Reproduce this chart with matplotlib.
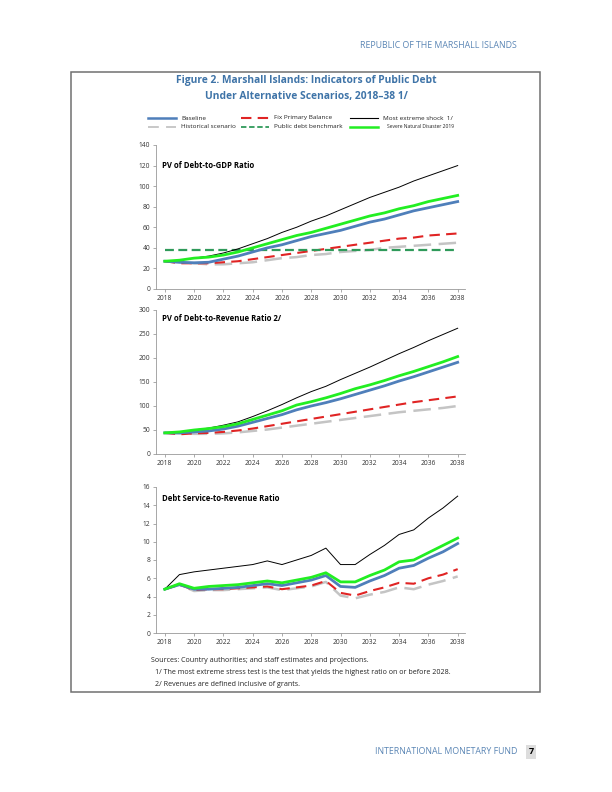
import numpy as np
import matplotlib
matplotlib.use("Agg")
import matplotlib.pyplot as plt
from matplotlib.lines import Line2D
from matplotlib.patches import Rectangle

plt.rcParams['font.family'] = ['Open Sans', 'DejaVu Sans']

years = list(range(2018, 2039))
xticks = list(range(2018, 2039, 2))

# PV of debt-to-GDP ratio
gdp_baseline = [27, 26, 25.5, 26, 29, 32, 36, 40, 43, 47, 51, 54, 57, 61, 65, 68, 72, 76, 79, 82, 85]
gdp_historical = [27, 26, 25, 24, 24, 25, 26, 28, 30, 31, 33, 34, 36, 37, 38, 40, 41, 42, 43, 44, 45]
gdp_fixpb = [27, 25, 25, 25, 26, 27, 29, 31, 33, 35, 37, 39, 41, 43, 45, 47, 49, 50, 52, 53, 54]
gdp_benchmark = [38] * 21
gdp_extreme = [27, 28, 30, 32, 35, 39, 44, 49, 55, 60, 66, 71, 77, 83, 89, 94, 99, 105, 110, 115, 120]
gdp_disaster = [27, 28, 30, 31, 33, 36, 40, 44, 48, 52, 55, 59, 63, 67, 71, 74, 78, 81, 85, 88, 91]

# PV of debt-to-revenue ratio
rev_baseline = [44, 44, 46, 48, 52, 58, 66, 74, 82, 92, 100, 107, 115, 124, 133, 142, 152, 161, 171, 181, 191]
rev_historical = [44, 43, 42, 42, 43, 45, 48, 51, 55, 59, 63, 67, 71, 75, 79, 83, 87, 90, 93, 96, 100]
rev_fixpb = [44, 41, 43, 44, 46, 49, 53, 58, 63, 68, 73, 78, 83, 88, 93, 98, 103, 108, 112, 116, 120]
rev_extreme = [44, 46, 50, 54, 60, 67, 78, 90, 103, 117, 130, 141, 155, 168, 181, 195, 209, 222, 236, 249, 262]
rev_disaster = [44, 46, 50, 53, 57, 63, 72, 81, 90, 102, 109, 117, 126, 136, 144, 153, 163, 172, 182, 192, 203]

# Debt service-to-revenue ratio
ds_baseline = [4.8, 5.3, 4.8, 4.8, 4.9, 5.0, 5.2, 5.4, 5.2, 5.5, 5.8, 6.3, 5.1, 5.0, 5.7, 6.3, 7.1, 7.4, 8.2, 8.9, 9.8]
ds_historical = [4.8, 5.3, 4.6, 4.7, 4.7, 4.8, 4.9, 5.0, 4.7, 4.9, 5.1, 5.6, 4.1, 3.8, 4.2, 4.5, 5.0, 4.8, 5.3, 5.7, 6.2]
ds_fixpb = [4.8, 5.3, 4.7, 4.8, 4.8, 4.9, 5.0, 5.1, 4.8, 5.0, 5.2, 5.7, 4.4, 4.1, 4.6, 5.0, 5.5, 5.4, 6.0, 6.4, 7.0]
ds_extreme = [4.8, 6.4, 6.7, 6.9, 7.1, 7.3, 7.5, 7.9, 7.5, 8.0, 8.5, 9.3, 7.5, 7.5, 8.6, 9.6, 10.8, 11.3, 12.6, 13.7, 15.0]
ds_disaster = [4.8, 5.4, 4.9, 5.1, 5.2, 5.3, 5.5, 5.7, 5.5, 5.8, 6.1, 6.6, 5.6, 5.6, 6.3, 6.9, 7.8, 8.0, 8.8, 9.6, 10.4]

BLUE = '#4f7fba'
GREEN = '#22ee22'
RED = '#e02424'
GRAY = '#c4c4c4'
BENCH = '#2f9a5a'
TITLE_BLUE = '#3f74a8'

W, H = 612, 792
fig = plt.figure(figsize=(W / 100, H / 100), dpi=100)


def px_axes(left, top, right, bottom):
    return fig.add_axes([left / W, 1 - bottom / H, (right - left) / W, (bottom - top) / H])


def draw_panel(ax, base, hist, fixpb, extreme, disaster, bench, ymax, ystep, title):
    ax.plot(years, hist, color=GRAY, lw=1.8, dashes=(7, 3))
    ax.plot(years, fixpb, color=RED, lw=1.5, dashes=(5, 3))
    if bench is not None:
        ax.plot(years, bench, color=BENCH, lw=1.6, dashes=(4, 2))
    ax.plot(years, extreme, color='black', lw=0.7)
    ax.plot(years, base, color=BLUE, lw=2.0)
    ax.plot(years, disaster, color=GREEN, lw=2.0)
    ax.set_xlim(2017.4, 2038.5)
    ax.set_ylim(0, ymax)
    ax.set_yticks(np.arange(0, ymax + ystep / 2, ystep))
    ax.set_xticks(xticks)
    ax.tick_params(labelsize=4.8, length=2, width=0.5, colors='#888888', labelcolor='#333333', pad=2)
    for s in ['top', 'right']:
        ax.spines[s].set_visible(False)
    for s in ['left', 'bottom']:
        ax.spines[s].set_color('#999999')
        ax.spines[s].set_linewidth(0.6)
    ax.text(0.02, 0.86, title, transform=ax.transAxes, fontsize=5.6,
            fontweight='bold', color='black', va='center', ha='left')


ax1 = px_axes(156, 145, 465, 289)
draw_panel(ax1, gdp_baseline, gdp_historical, gdp_fixpb, gdp_extreme, gdp_disaster,
           gdp_benchmark, 140, 20, 'PV of Debt-to-GDP Ratio')

ax2 = px_axes(156, 310, 465, 454)
draw_panel(ax2, rev_baseline, rev_historical, rev_fixpb, rev_extreme, rev_disaster,
           None, 300, 50, 'PV of Debt-to-Revenue Ratio 2/')
ax2.texts[0].set_position((0.02, 0.94))

ax3 = px_axes(156, 487, 465, 633)
draw_panel(ax3, ds_baseline, ds_historical, ds_fixpb, ds_extreme, ds_disaster,
           None, 16, 2, 'Debt Service-to-Revenue Ratio')
ax3.texts[0].set_position((0.02, 0.92))

# frame
frame = Rectangle((71 / W, 1 - 692 / H), (540 - 71) / W, (692 - 72) / H,
                  transform=fig.transFigure, fill=False, edgecolor='#707070', lw=1.1)
fig.patches.append(frame)

# header / footer
fig.text(517 / W, 1 - 45 / H, 'REPUBLIC OF THE MARSHALL ISLANDS', fontsize=6.3,
         color='#5b86b5', ha='right', va='center')
fig.text(517 / W, 1 - 752 / H, 'INTERNATIONAL MONETARY FUND', fontsize=6.3,
         color='#5b86b5', ha='right', va='center')
fig.text(531 / W, 1 - 752 / H, '7', fontsize=6.5, fontweight='bold', color='black',
         ha='center', va='center',
         bbox=dict(boxstyle='square,pad=0.3', facecolor='#dddddd', edgecolor='none'))

# title
fig.text(306 / W, 1 - 81 / H, 'Figure 2. Marshall Islands: Indicators of Public Debt',
         fontsize=7.4, fontweight='bold', color=TITLE_BLUE, ha='center', va='center')
fig.text(306 / W, 1 - 96 / H, 'Under Alternative Scenarios, 2018\u201338 1/',
         fontsize=7.4, fontweight='bold', color=TITLE_BLUE, ha='center', va='center')

# legend (drawn manually to match spacing)
leg_items = [
    (148, 118, dict(color=BLUE, lw=1.8), 'Baseline', 4.6),
    (148, 127, dict(color=GRAY, lw=1.3, dashes=(6, 4)), 'Historical scenario', 4.6),
    (241, 118, dict(color=RED, lw=1.5, dashes=(5, 3)), 'Fix Primary Balance', 4.6),
    (241, 127, dict(color=BENCH, lw=1.3, dashes=(3, 1.5)), 'Public debt benchmark', 4.6),
    (350, 118, dict(color='black', lw=0.8), 'Most extreme shock  1/', 4.6),
    (350, 127, dict(color=GREEN, lw=1.8), 'Severe Natural Disaster 2019', 3.6),
]
for x0, y0, style, label, fs in leg_items:
    ln = Line2D([x0 / W, (x0 + 28) / W], [1 - y0 / H, 1 - y0 / H],
                transform=fig.transFigure, **style)
    fig.lines.append(ln)
    xt = x0 + 33 if fs > 4 else x0 + 37
    fig.text(xt / W, 1 - y0 / H, label, fontsize=fs, color='#222222', ha='left', va='center')

# notes
fig.text(151 / W, 1 - 661 / H, 'Sources: Country authorities; and staff estimates and projections.',
         fontsize=5.1, color='#222222', ha='left', va='center')
fig.text(155 / W, 1 - 673 / H,
         '1/ The most extreme stress test is the test that yields the highest ratio on or before 2028.',
         fontsize=5.1, color='#222222', ha='left', va='center')
fig.text(155 / W, 1 - 684 / H, '2/ Revenues are defined inclusive of grants.',
         fontsize=5.1, color='#222222', ha='left', va='center')

fig.savefig('out.png', dpi=100)
